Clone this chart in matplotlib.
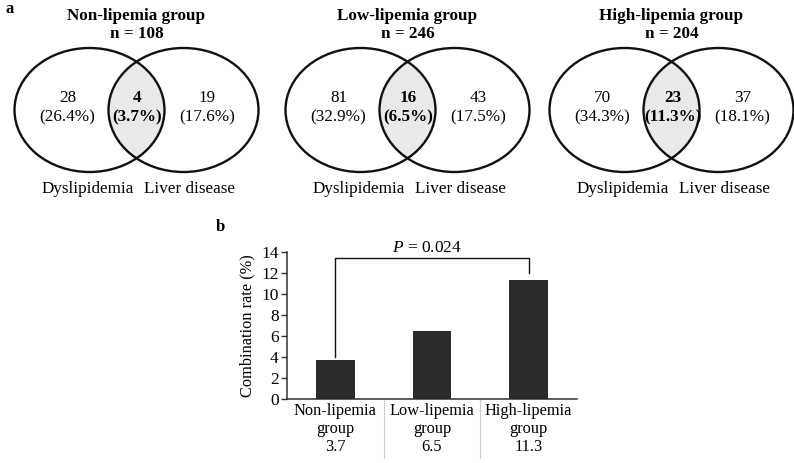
import matplotlib
matplotlib.use("Agg")
import matplotlib.pyplot as plt
from matplotlib.patches import Ellipse
import matplotlib.transforms as mtransforms

plt.rcParams['font.family'] = ['Liberation Serif', 'DejaVu Serif']
plt.rcParams['mathtext.fontset'] = 'custom'
plt.rcParams['mathtext.rm'] = 'Liberation Serif'
plt.rcParams['mathtext.it'] = 'Liberation Serif:italic'

# ---- data ----
groups = ['Non-lipemia group', 'Low-lipemia group', 'High-lipemia group']
n_total = [108, 246, 204]
dys_only = [28, 81, 70]
dys_pct = [26.4, 32.9, 34.3]
both = [4, 16, 23]
both_pct = [3.7, 6.5, 11.3]
liver_only = [19, 43, 37]
liver_pct = [17.6, 17.5, 18.1]
set_labels = ['Dyslipidemia', 'Liver disease']
rates = [3.7, 6.5, 11.3]
p_label = '$P$ = 0.024'
yticks = [0, 2, 4, 6, 8, 10, 12, 14]

W, H = 794, 463
fig = plt.figure(figsize=(W / 100, H / 100), dpi=100)

# ---- panel a: Venn diagrams (pixel coordinate overlay) ----
ax0 = fig.add_axes([0, 0, 1, 1])
ax0.set_xlim(0, W)
ax0.set_ylim(H, 0)
ax0.axis('off')

mids = [136.5, 407.5, 671.5]
cy = 110
ew, eh = 150, 124
sep = 94
fs = 12.3

ax0.text(5, 9, 'a', fontsize=12, fontweight='bold', ha='left', va='center')
for i, mx in enumerate(mids):
    e1 = Ellipse((mx - sep / 2, cy), ew, eh, fill=False, lw=1.7, ec='#111111', zorder=3)
    e2 = Ellipse((mx + sep / 2, cy), ew, eh, fill=False, lw=1.7, ec='#111111', zorder=3)
    ax0.add_patch(e1)
    ax0.add_patch(e2)
    clipper = Ellipse((mx + sep / 2, cy), ew, eh, fill=False, lw=0, transform=ax0.transData)
    ax0.add_patch(clipper)
    fillp = Ellipse((mx - sep / 2, cy), ew, eh, fc='#e9e9e9', ec='none', zorder=2)
    ax0.add_patch(fillp)
    fillp.set_clip_path(clipper)

    ax0.text(mx, 16, groups[i], fontsize=fs, fontweight='bold', ha='center', va='center')
    ax0.text(mx, 34, f'n = {n_total[i]}', fontsize=fs, fontweight='bold', ha='center', va='center')
    ty = 108
    ax0.text(mx - 69, ty, f'{dys_only[i]}\n({dys_pct[i]}%)', fontsize=fs, ha='center',
             va='center', linespacing=1.25)
    ax0.text(mx + 1, ty, f'{both[i]}\n({both_pct[i]}%)', fontsize=fs, fontweight='bold',
             ha='center', va='center', linespacing=1.25)
    ax0.text(mx + 71, ty, f'{liver_only[i]}\n({liver_pct[i]}%)', fontsize=fs, ha='center',
             va='center', linespacing=1.25)
    ax0.text(mx - 49, 189, set_labels[0], fontsize=fs, ha='center', va='center')
    ax0.text(mx + 53, 189, set_labels[1], fontsize=fs, ha='center', va='center')

# ---- panel b: bar chart ----
ax = fig.add_axes([287 / W, (H - 399) / H, 290 / W, 147 / H])
x = list(range(len(rates)))
ax.bar(x, rates, width=0.4, color='#2b2b2b', zorder=3)
ax.set_xlim(-0.5, len(rates) - 0.5)
ax.set_ylim(0, 14)
ax.set_yticks(yticks)
ax.set_yticklabels([str(t) for t in yticks], fontsize=12.5)
ax.tick_params(axis='y', length=4, width=1, color='#333333', pad=2)
ax.set_xticks(x)
ax.set_xticklabels([f"{g.split()[0]}\ngroup\n{r}" for g, r in zip(groups, rates)],
                   fontsize=11.8, linespacing=1.15)
ax.tick_params(axis='x', length=0, pad=3)
for s in ['top', 'right']:
    ax.spines[s].set_visible(False)
ax.spines['left'].set_color('#333333')
ax.spines['bottom'].set_color('#333333')
ax.spines['left'].set_linewidth(1.1)
ax.spines['bottom'].set_linewidth(1.1)
ax.set_ylabel('Combination rate (%)', fontsize=11.8, labelpad=4)

# category separator lines below the axis (data-table style)
trans = mtransforms.blended_transform_factory(ax.transData, ax.transAxes)
for b in [0.5, 1.5]:
    ax.plot([b, b], [0, -0.4], transform=trans, color='#cccccc', lw=0.8, clip_on=False)

# significance bracket
ax.plot([x[0], x[0], x[2], x[2]], [rates[0] + 0.3, 13.4, 13.4, rates[2] + 0.7],
        color='#111111', lw=1.0, clip_on=False, zorder=4)
ax.text((x[0] + x[2]) / 2 - 0.05, 13.6, p_label, fontsize=12.5, ha='center', va='bottom')

fig.text(220 / W, 1 - 227 / H, 'b', fontsize=12, fontweight='bold', ha='center', va='center')

fig.savefig('out.png', dpi=100)
